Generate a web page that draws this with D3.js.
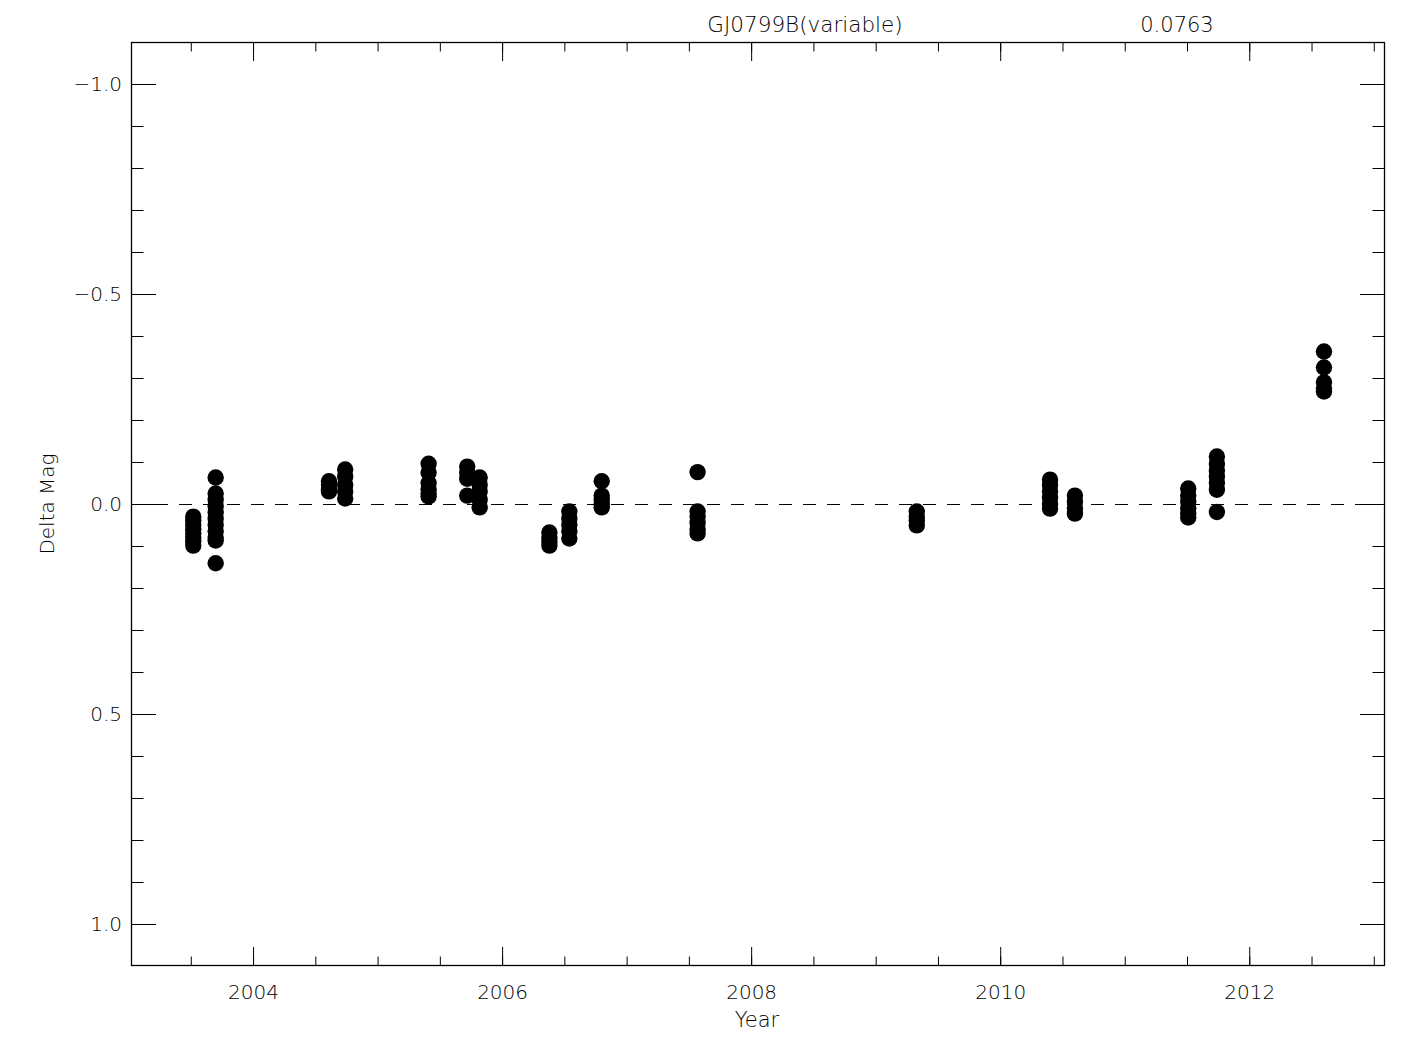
<!DOCTYPE html>
<html>
<head>
<meta charset="utf-8">
<script src="https://cdn.jsdelivr.net/npm/d3@7"></script>
<style>
  html, body { margin: 0; padding: 0; background: #fff; }
  text { font-family: "DejaVu Sans", "Liberation Sans", sans-serif; font-weight: 200; fill: #000; }
</style>
</head>
<body>
<svg id="chart" width="1425" height="1050"></svg>
<script>
// ---- data ----
const titleStar = "GJ0799B(variable)";
const titleValue = "0.0763";
const xLabel = "Year";
const yLabel = "Delta Mag";

// epoch of each observing run (decimal year)
const epochYears = [2003.52, 2003.70, 2004.61, 2004.74, 2005.41, 2005.72, 2005.82,
                    2006.38, 2006.54, 2006.80, 2007.57, 2009.33, 2010.40, 2010.60,
                    2011.51, 2011.74, 2012.60];
// delta magnitudes measured in each run
const epochDeltas = [
  [0.030, 0.040, 0.050, 0.060, 0.070, 0.080, 0.090, 0.099],
  [-0.063, -0.025, -0.010, 0.005, 0.020, 0.035, 0.050, 0.065, 0.080, 0.087, 0.141],
  [-0.054, -0.045, -0.035, -0.030],
  [-0.082, -0.065, -0.045, -0.030, -0.013],
  [-0.096, -0.075, -0.050, -0.035, -0.025, -0.018],
  [-0.089, -0.075, -0.060, -0.020],
  [-0.063, -0.045, -0.030, -0.010, 0.008],
  [0.068, 0.080, 0.090, 0.099],
  [0.018, 0.035, 0.050, 0.065, 0.082],
  [-0.054, -0.020, -0.010, 0.000, 0.008],
  [-0.076, 0.018, 0.030, 0.045, 0.060, 0.070],
  [0.018, 0.030, 0.040, 0.051],
  [-0.058, -0.045, -0.030, -0.015, 0.000, 0.011],
  [-0.020, -0.005, 0.010, 0.023],
  [-0.037, -0.020, -0.005, 0.010, 0.022, 0.032],
  [-0.113, -0.095, -0.080, -0.065, -0.050, -0.034, 0.019],
  [-0.363, -0.325, -0.290, -0.275, -0.268]
];

const xMajorTicks = [2004, 2006, 2008, 2010, 2012];
const xMinorTicks = [2003.5, 2004, 2004.5, 2005, 2005.5, 2006, 2006.5, 2007, 2007.5, 2008,
                     2008.5, 2009, 2009.5, 2010, 2010.5, 2011, 2011.5, 2012, 2012.5, 2013];
const yMajorTicks = [-1.0, -0.5, 0.0, 0.5, 1.0];
const yMinorTicks = [-1.0, -0.9, -0.8, -0.7, -0.6, -0.5, -0.4, -0.3, -0.2, -0.1, 0.0,
                     0.1, 0.2, 0.3, 0.4, 0.5, 0.6, 0.7, 0.8, 0.9, 1.0];
const xDomain = [2003.02, 2013.09];
const yDomain = [-1.1, 1.1];

// ---- layout ----
const M = { left: 131, top: 42, width: 1254, height: 924 };
const svg = d3.select("#chart");
const g = svg.append("g").attr("transform", `translate(${M.left},${M.top})`);

const x = d3.scaleLinear().domain(xDomain).range([0, M.width]);
const y = d3.scaleLinear().domain(yDomain).range([0, M.height]);

const points = [];
epochYears.forEach((yr, i) => epochDeltas[i].forEach(v => points.push({ yr, v })));

const fmtY = v => (v < 0 ? "\u2212" : "") + Math.abs(v).toFixed(1);

function styleAxis(sel) {
  sel.select(".domain").remove();
  sel.selectAll(".tick line").attr("stroke", "#000").attr("stroke-width", 1);
  sel.selectAll("text").style("font-size", "20px").attr("fill", "#000");
}

// bottom axis
g.append("g").attr("transform", `translate(0,${M.height})`)
  .call(d3.axisBottom(x).tickValues(xMajorTicks).tickSize(-19).tickPadding(19).tickFormat(d3.format("d")))
  .call(styleAxis);
g.append("g").attr("transform", `translate(0,${M.height})`)
  .call(d3.axisBottom(x).tickValues(xMinorTicks).tickSize(-9.5).tickFormat(""))
  .call(styleAxis);
// top axis
g.append("g")
  .call(d3.axisTop(x).tickValues(xMajorTicks).tickSize(-19).tickFormat(""))
  .call(styleAxis);
g.append("g")
  .call(d3.axisTop(x).tickValues(xMinorTicks).tickSize(-9.5).tickFormat(""))
  .call(styleAxis);
// left axis
g.append("g")
  .call(d3.axisLeft(y).tickValues(yMajorTicks).tickSize(-25).tickPadding(9).tickFormat(fmtY))
  .call(styleAxis);
g.append("g")
  .call(d3.axisLeft(y).tickValues(yMinorTicks).tickSize(-12.5).tickFormat(""))
  .call(styleAxis);
// right axis
g.append("g").attr("transform", `translate(${M.width},0)`)
  .call(d3.axisRight(y).tickValues(yMajorTicks).tickSize(-25).tickFormat(""))
  .call(styleAxis);
g.append("g").attr("transform", `translate(${M.width},0)`)
  .call(d3.axisRight(y).tickValues(yMinorTicks).tickSize(-12.5).tickFormat(""))
  .call(styleAxis);

// frame
g.append("rect").attr("x", 0.5).attr("y", 0.5)
  .attr("width", M.width - 1).attr("height", M.height - 1)
  .attr("fill", "none").attr("stroke", "#000").attr("stroke-width", 1.3);

// zero reference line
g.append("line")
  .attr("x1", 0).attr("x2", M.width)
  .attr("y1", y(0) + 0.5).attr("y2", y(0) + 0.5)
  .attr("stroke", "#000").attr("stroke-width", 1)
  .attr("stroke-dasharray", "13,11")
  .attr("shape-rendering", "crispEdges");

// points
g.append("g").selectAll("circle").data(points).join("circle")
  .attr("cx", d => x(d.yr)).attr("cy", d => y(d.v)).attr("r", 8.2)
  .attr("fill", "#000");

// titles and labels
svg.append("text").attr("x", 805).attr("y", 32).attr("text-anchor", "middle")
  .style("font-size", "21.5px").text(titleStar);
svg.append("text").attr("x", 1177).attr("y", 32).attr("text-anchor", "middle")
  .style("font-size", "21px").text(titleValue);
svg.append("text").attr("x", 757).attr("y", 1027).attr("text-anchor", "middle")
  .style("font-size", "21px").text(xLabel);
svg.append("text").attr("transform", "translate(54,504) rotate(-90)").attr("text-anchor", "middle")
  .style("font-size", "20px").text(yLabel);
</script>
</body>
</html>
